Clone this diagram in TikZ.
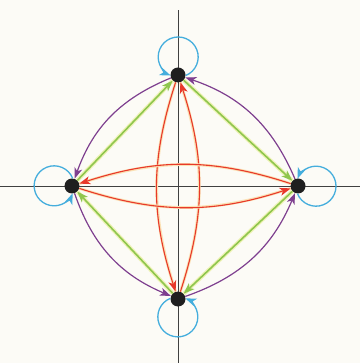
\documentclass[tikz,border=0pt]{standalone}
\usepackage{xcolor}
\usepackage{tikz}
\usetikzlibrary{arrows.meta}
\definecolor{loopblue}{HTML}{45AEDD}
\definecolor{arcpurple}{HTML}{7E3F8F}
\definecolor{edgegreen}{HTML}{8FC64E}
\definecolor{glowyellow}{HTML}{EEF2B4}
\definecolor{edgered}{HTML}{E8392B}
\definecolor{gloworange}{HTML}{FBE1B4}
\definecolor{paper}{HTML}{FCFBF6}

\begin{document}
\begin{tikzpicture}[x=1pt,y=1pt,
  vertex/.style={circle,fill=black!88,inner sep=0pt,minimum size=15pt},
  tip/.style={-{Stealth[length=11pt,width=8pt,inset=3pt]}},
  axisline/.style={black!75,line width=0.9pt},
  selfloop/.style={tip,loopblue,line width=1.3pt},
  sideedge/.style={tip,edgegreen,line width=1.6pt,preaction={draw,glowyellow,line width=4pt,-}},
  outerarc/.style={tip,arcpurple,line width=1.2pt,bend right=24},
  crossarc/.style={tip,edgered,line width=1.1pt,bend right=18,preaction={draw,gloworange,line width=2.8pt,-}}]
\fill[paper] (-178,-177) rectangle (182,186);
\useasboundingbox (-178,-177) rectangle (182,186);
\coordinate (ytop) at (0,176);
\coordinate (ybot) at (0,-177);
\coordinate (xleft) at (-178,0);
\coordinate (xright) at (182,0);
\draw[axisline] (ybot) -- (ytop);
\draw[axisline] (xleft) -- (xright);
\node[vertex] (T) at (0,111) {};
\node[vertex] (L) at (-106,0) {};
\node[vertex] (R) at (120,0) {};
\node[vertex] (B) at (0,-113) {};
\draw[selfloop] (T.-4.2) arc[start angle=-68,end angle=248,radius=20];
\draw[selfloop] (L.85.8) arc[start angle=22,end angle=338,radius=20];
\draw[selfloop] (R.-94.2) arc[start angle=-158,end angle=158,radius=20];
\draw[selfloop] (B.175.8) arc[start angle=112,end angle=428,radius=20];
\draw[sideedge] (L) -- (T);
\draw[sideedge] (T) -- (R);
\draw[sideedge] (R) -- (B);
\draw[sideedge] (B) -- (L);
\draw[outerarc] (T) to (L);
\draw[outerarc] (L) to (B);
\draw[outerarc] (B) to (R);
\draw[outerarc] (R) to (T);
\draw[crossarc] (T) to (B);
\draw[crossarc] (B) to (T);
\draw[crossarc] (R) to (L);
\draw[crossarc] (L) to (R);
\end{tikzpicture}
\end{document}
